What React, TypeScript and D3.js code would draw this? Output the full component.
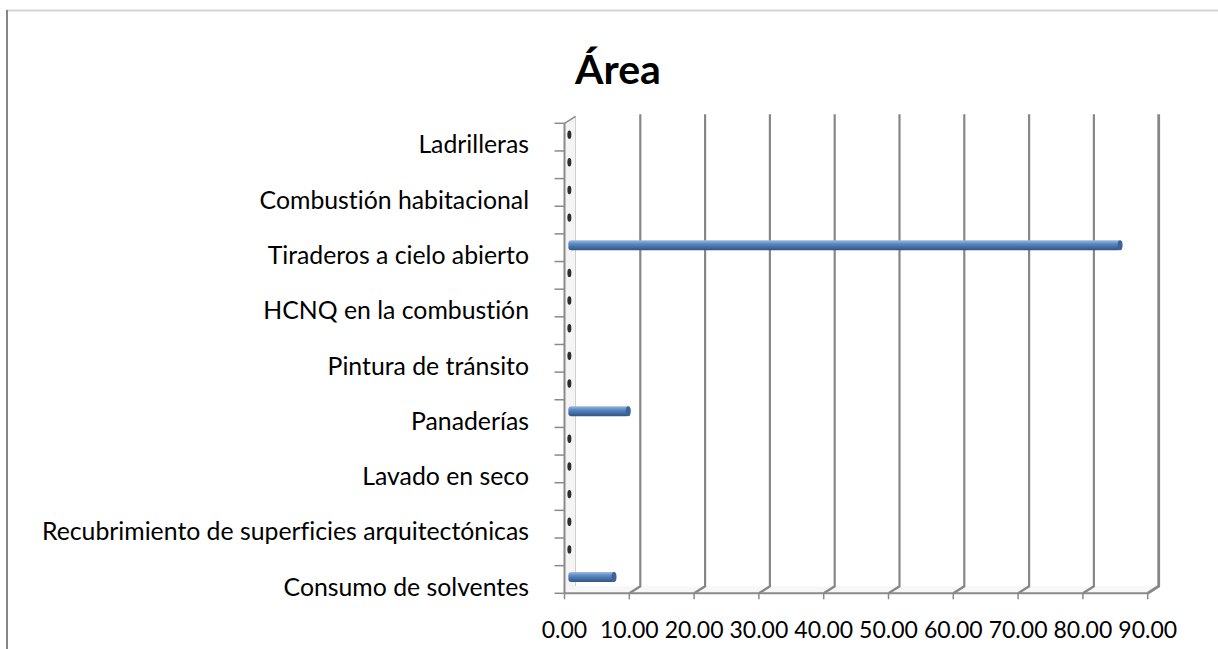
import React from 'react';
import * as d3 from 'd3';

// categories from bottom to top; Excel only printed every other label
const categories = [
    'Consumo de solventes',
    '',
    'Recubrimiento de superficies arquitectónicas',
    '',
    'Lavado en seco',
    '',
    'Panaderías',
    '',
    'Pintura de tránsito',
    '',
    'HCNQ en la combustión',
    '',
    'Tiraderos a cielo abierto',
    '',
    'Combustión habitacional',
    '',
    'Ladrilleras',
];
const values = [7.2, 0, 0, 0, 0, 0, 9.4, 0, 0, 0, 0, 0, 85.3, 0, 0, 0, 0];
const xTicks = [0, 10, 20, 30, 40, 50, 60, 70, 80, 90];
const title = 'Área';

const W = 1218;
const H = 649;
const depth = { dx: 11, dy: -7 };
const font = 'Lato, "Open Sans", sans-serif';
const noLig = { fontVariantLigatures: 'none' as const };

export default function App() {
    const x = d3.scaleLinear().domain([0, 90]).range([564.5, 1147.7]);
    const y = d3.scaleBand<number>()
        .domain(d3.range(categories.length))
        .range([593.3, 123.3])
        .padding(0);

    const x0 = x(0);
    const floorY = 593.3;
    const topY = 123.3;
    const bw = y.bandwidth();
    const barH = 10;
    const off = { dx: depth.dx * 0.35, dy: depth.dy * 0.35 };

    return (
        <svg width={W} height={H} style={{ position: 'absolute', left: 0, top: 0 }}>
            <defs>
                <linearGradient id="cyl" x1="0" y1="0" x2="0" y2="1">
                    <stop offset="0" stopColor="#9dbbe0" />
                    <stop offset="0.35" stopColor="#5b8ac5" />
                    <stop offset="1" stopColor="#2f5487" />
                </linearGradient>
            </defs>
            <rect width={W} height={H} fill="#fff" />

            {/* chart area border */}
            <line x1={6} x2={W} y1={10.5} y2={10.5} stroke="#d6d6d6" strokeWidth={2} />
            <line x1={7} x2={7} y1={10} y2={H} stroke="#868686" strokeWidth={2} />

            <text x={618} y={84} textAnchor="middle" fontFamily={font} fontWeight="bold" fontSize={41} style={noLig}>
                {title}
            </text>

            {/* left wall */}
            <polygon
                points={`${x0},${topY} ${x0 + depth.dx},${topY + depth.dy} ${x0 + depth.dx},${floorY + depth.dy} ${x0},${floorY}`}
                fill="#f4f4f4"
                stroke="none"
            />
            <line x1={x0 + depth.dx} x2={x0 + depth.dx} y1={topY + depth.dy} y2={floorY + depth.dy} stroke="#d0d0d0" strokeWidth={1} />
            <line x1={x0} x2={x0 + depth.dx} y1={topY} y2={topY + depth.dy} stroke="#8a8a8a" strokeWidth={1.5} />

            {/* floor */}
            <polygon
                points={`${x0},${floorY} ${x(90)},${floorY} ${x(90) + depth.dx},${floorY + depth.dy} ${x0 + depth.dx},${floorY + depth.dy}`}
                fill="#f7f7f7"
            />

            {/* gridlines on back wall */}
            {xTicks.filter(t => t > 0).map(t => (
                <path
                    key={'g' + t}
                    d={`M${x(t)},${floorY} L${x(t) + depth.dx},${floorY + depth.dy} L${x(t) + depth.dx},${topY + depth.dy - 2}`}
                    fill="none"
                    stroke="#878787"
                    strokeWidth={t === 90 ? 2.8 : 2.2}
                />
            ))}

            {/* category axis */}
            <line x1={x0} x2={x0} y1={topY} y2={floorY} stroke="#8a8a8a" strokeWidth={2} />
            {d3.range(categories.length + 1).map(i => {
                const yy = floorY - i * bw;
                return <line key={'yt' + i} x1={x0 - 10} x2={x0} y1={yy} y2={yy} stroke="#8a8a8a" strokeWidth={1.5} />;
            })}

            {/* value axis */}
            <line x1={x0} x2={x(90)} y1={floorY} y2={floorY} stroke="#8a8a8a" strokeWidth={2} />
            {xTicks.map(t => (
                <g key={'xt' + t}>
                    <line x1={x(t)} x2={x(t)} y1={floorY} y2={floorY + 6} stroke="#8a8a8a" strokeWidth={1.5} />
                    <text x={x(t)} y={638} textAnchor="middle" fontFamily={font} fontSize={23} fill="#000">
                        {t.toFixed(2)}
                    </text>
                </g>
            ))}

            {/* bars (cylinders) */}
            {values.map((v, i) => {
                const cy = (y(i) as number) + bw / 2 + off.dy;
                const xs = x0 + off.dx;
                const xe = x(v) + off.dx;
                if (v === 0) {
                    return <ellipse key={'b' + i} cx={xs + 1} cy={cy} rx={2} ry={4.2} fill="#2e2e2e" />;
                }
                return (
                    <g key={'b' + i}>
                        <rect x={xs} y={cy - barH / 2} width={xe - xs} height={barH} rx={3} fill="url(#cyl)" />
                        <ellipse cx={xe - 1} cy={cy} rx={2.5} ry={barH / 2} fill="#3c6495" />
                    </g>
                );
            })}

            {/* category labels */}
            {categories.map((c, i) => c === '' ? null : (
                <text
                    key={'c' + i}
                    x={529}
                    y={(y(i) as number) + bw / 2 + 10}
                    textAnchor="end"
                    dominantBaseline="middle"
                    fontFamily={font}
                    fontSize={24.8}
                    fill="#000"
                    style={noLig}
                >
                    {c}
                </text>
            ))}
        </svg>
    );
}
